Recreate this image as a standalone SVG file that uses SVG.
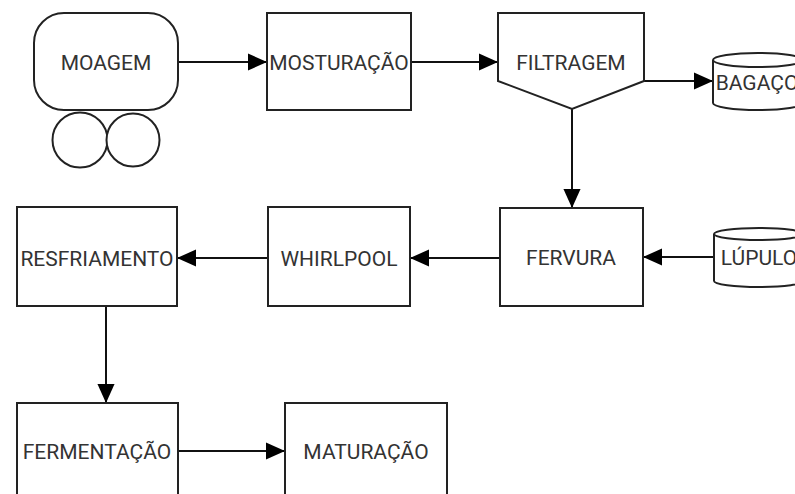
<svg xmlns="http://www.w3.org/2000/svg" width="795" height="494" viewBox="0 0 795 494">
<defs>
<marker id="arr" viewBox="0 0 20 20" refX="20" refY="10" markerWidth="19" markerHeight="19" markerUnits="userSpaceOnUse" orient="auto">
<path d="M0,1 L20,10 L0,19 z" fill="#000"/>
</marker>
<style>
.s{fill:#fff;stroke:#222;stroke-width:2}
.t{font-family:Roboto,"Liberation Sans",sans-serif;font-size:21px;fill:#333;text-anchor:middle;dominant-baseline:central}
.c{stroke:#111;stroke-width:2;fill:none;marker-end:url(#arr)}
</style>
</defs>
<rect width="795" height="494" fill="#fff"/>
<g id="connectors">
<line class="c" x1="178" y1="62" x2="267" y2="62"/>
<line class="c" x1="411" y1="62" x2="498" y2="62"/>
<line class="c" x1="644" y1="81" x2="713" y2="81"/>
<line class="c" x1="572" y1="109" x2="572" y2="208"/>
<line class="c" x1="718" y1="257" x2="643" y2="257"/>
<line class="c" x1="500" y1="258" x2="410" y2="258"/>
<line class="c" x1="268" y1="258" x2="177" y2="258"/>
<line class="c" x1="106" y1="306" x2="106" y2="403"/>
<line class="c" x1="178" y1="451" x2="285" y2="451"/>
</g>
<g id="moagem">
<circle class="s" cx="80" cy="140" r="27.5"/>
<circle class="s" cx="133" cy="140" r="26.5"/>
<rect class="s" x="34" y="13" width="144" height="97" rx="30"/>
<text class="t" x="106" y="63">MOAGEM</text>
</g>
<g id="mosturacao">
<rect class="s" x="267" y="13" width="144" height="97"/>
<text class="t" x="339" y="63">MOSTURAÇÃO</text>
</g>
<g id="filtragem">
<path class="s" d="M498,13 H644 V81 L572,109 L498,81 Z"/>
<text class="t" x="571" y="63">FILTRAGEM</text>
</g>
<g id="bagaco">
<path class="s" d="M713,60 A45,7 0 0 1 803,60 V103 A45,7 0 0 1 713,103 Z"/>
<path class="s" d="M713,60 A45,7 0 0 0 803,60" fill="none"/>
<text class="t" x="757" y="83">BAGAÇO</text>
</g>
<g id="fervura">
<rect class="s" x="500" y="208" width="143" height="98"/>
<text class="t" x="571" y="258">FERVURA</text>
</g>
<g id="lupulo">
<path class="s" d="M714,234 A45,6 0 0 1 804,234 V281 A45,6 0 0 1 714,281 Z"/>
<path class="s" d="M714,234 A45,6 0 0 0 804,234" fill="none"/>
<text class="t" x="759" y="258">LÚPULO</text>
</g>
<g id="whirlpool">
<rect class="s" x="268" y="207" width="142" height="99"/>
<text class="t" x="339" y="259">WHIRLPOOL</text>
</g>
<g id="resfriamento">
<rect class="s" x="17" y="207" width="160" height="99"/>
<text class="t" x="97" y="259">RESFRIAMENTO</text>
</g>
<g id="fermentacao">
<rect class="s" x="17" y="403" width="161" height="100"/>
<text class="t" x="97" y="452">FERMENTAÇÃO</text>
</g>
<g id="maturacao">
<rect class="s" x="285" y="403" width="162" height="100"/>
<text class="t" x="366" y="452">MATURAÇÃO</text>
</g>
</svg>
